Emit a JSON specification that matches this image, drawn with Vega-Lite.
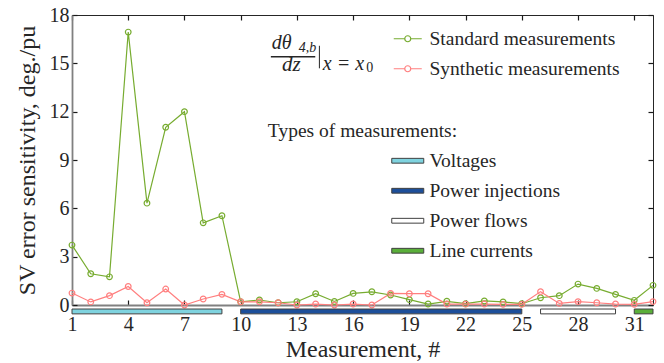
{
  "$schema": "https://vega.github.io/schema/vega-lite/v6.json",
  "width": 581,
  "height": 290,
  "autosize": {"type": "none"},
  "padding": {"left": 72, "top": 15, "right": 11, "bottom": 58},
  "background": "white",
  "config": {
    "view": {"stroke": "#262626", "strokeWidth": 1},
    "font": "Liberation Serif",
    "axis": {
      "labelFont": "Liberation Serif",
      "titleFont": "Liberation Serif",
      "labelColor": "#262626",
      "titleColor": "#262626",
      "titleFontWeight": "normal",
      "grid": false,
      "tickColor": "#1a1a1a",
      "tickWidth": 1.2,
      "domainColor": "#808080",
      "domainWidth": 1.8,
      "labelFlush": false
    },
    "legend": {
      "labelFont": "Liberation Serif",
      "labelFontSize": 19.5,
      "labelColor": "#262626",
      "labelLimit": 400,
      "padding": 0
    },
    "text": {"font": "Liberation Serif", "color": "#262626"}
  },
  "datasets": {
    "series": [
      {"m": 1, "series": "Standard measurements", "v": 3.72},
      {"m": 2, "series": "Standard measurements", "v": 1.94},
      {"m": 3, "series": "Standard measurements", "v": 1.75},
      {"m": 4, "series": "Standard measurements", "v": 16.94},
      {"m": 5, "series": "Standard measurements", "v": 6.32},
      {"m": 6, "series": "Standard measurements", "v": 11.03},
      {"m": 7, "series": "Standard measurements", "v": 12.0},
      {"m": 8, "series": "Standard measurements", "v": 5.1},
      {"m": 9, "series": "Standard measurements", "v": 5.54},
      {"m": 10, "series": "Standard measurements", "v": 0.2},
      {"m": 11, "series": "Standard measurements", "v": 0.31},
      {"m": 12, "series": "Standard measurements", "v": 0.14},
      {"m": 13, "series": "Standard measurements", "v": 0.2},
      {"m": 14, "series": "Standard measurements", "v": 0.7},
      {"m": 15, "series": "Standard measurements", "v": 0.22},
      {"m": 16, "series": "Standard measurements", "v": 0.72},
      {"m": 17, "series": "Standard measurements", "v": 0.82},
      {"m": 18, "series": "Standard measurements", "v": 0.62},
      {"m": 19, "series": "Standard measurements", "v": 0.33},
      {"m": 20, "series": "Standard measurements", "v": 0.06},
      {"m": 21, "series": "Standard measurements", "v": 0.23},
      {"m": 22, "series": "Standard measurements", "v": 0.08},
      {"m": 23, "series": "Standard measurements", "v": 0.25},
      {"m": 24, "series": "Standard measurements", "v": 0.19},
      {"m": 25, "series": "Standard measurements", "v": 0.08},
      {"m": 26, "series": "Standard measurements", "v": 0.45},
      {"m": 27, "series": "Standard measurements", "v": 0.58},
      {"m": 28, "series": "Standard measurements", "v": 1.3},
      {"m": 29, "series": "Standard measurements", "v": 1.03},
      {"m": 30, "series": "Standard measurements", "v": 0.66},
      {"m": 31, "series": "Standard measurements", "v": 0.29},
      {"m": 32, "series": "Standard measurements", "v": 1.22},
      {"m": 1, "series": "Synthetic measurements", "v": 0.74},
      {"m": 2, "series": "Synthetic measurements", "v": 0.19},
      {"m": 3, "series": "Synthetic measurements", "v": 0.58},
      {"m": 4, "series": "Synthetic measurements", "v": 1.15},
      {"m": 5, "series": "Synthetic measurements", "v": 0.14},
      {"m": 6, "series": "Synthetic measurements", "v": 0.99},
      {"m": 7, "series": "Synthetic measurements", "v": 0.0},
      {"m": 8, "series": "Synthetic measurements", "v": 0.37},
      {"m": 9, "series": "Synthetic measurements", "v": 0.66},
      {"m": 10, "series": "Synthetic measurements", "v": 0.2},
      {"m": 11, "series": "Synthetic measurements", "v": 0.2},
      {"m": 12, "series": "Synthetic measurements", "v": 0.14},
      {"m": 13, "series": "Synthetic measurements", "v": 0.0},
      {"m": 14, "series": "Synthetic measurements", "v": 0.06},
      {"m": 15, "series": "Synthetic measurements", "v": 0.0},
      {"m": 16, "series": "Synthetic measurements", "v": 0.06},
      {"m": 17, "series": "Synthetic measurements", "v": 0.0},
      {"m": 18, "series": "Synthetic measurements", "v": 0.72},
      {"m": 19, "series": "Synthetic measurements", "v": 0.7},
      {"m": 20, "series": "Synthetic measurements", "v": 0.7},
      {"m": 21, "series": "Synthetic measurements", "v": 0.06},
      {"m": 22, "series": "Synthetic measurements", "v": 0.05},
      {"m": 23, "series": "Synthetic measurements", "v": 0.06},
      {"m": 24, "series": "Synthetic measurements", "v": 0.04},
      {"m": 25, "series": "Synthetic measurements", "v": 0.04},
      {"m": 26, "series": "Synthetic measurements", "v": 0.83},
      {"m": 27, "series": "Synthetic measurements", "v": 0.1},
      {"m": 28, "series": "Synthetic measurements", "v": 0.21},
      {"m": 29, "series": "Synthetic measurements", "v": 0.14},
      {"m": 30, "series": "Synthetic measurements", "v": 0.06},
      {"m": 31, "series": "Synthetic measurements", "v": 0.04},
      {"m": 32, "series": "Synthetic measurements", "v": 0.21}
    ],
    "types": [
      {"type": "Voltages", "start": 1, "end": 9},
      {"type": "Power injections", "start": 10, "end": 25},
      {"type": "Power flows", "start": 26, "end": 30},
      {"type": "Line currents", "start": 31, "end": 32}
    ]
  },
  "layer": [
    {
      "data": {"name": "series"},
      "mark": {"type": "point", "opacity": 0},
      "encoding": {
        "x": {
          "field": "m", "type": "quantitative",
          "scale": {"domain": [1, 32], "nice": false, "zero": false},
          "axis": {"orient": "top", "labels": false, "domain": false, "title": null,
                   "values": [1, 4, 7, 10, 13, 16, 19, 22, 25, 28, 31], "tickSize": -5}
        },
        "y": {
          "field": "v", "type": "quantitative",
          "scale": {"domain": [0, 18], "nice": false, "zero": false},
          "axis": {"orient": "right", "labels": false, "domain": false, "title": null,
                   "values": [0, 3, 6, 9, 12, 15, 18], "tickSize": -5}
        }
      }
    },
    {
      "data": {"name": "series"},
      "mark": {"type": "line", "strokeWidth": 1.2,
               "point": {"filled": false, "size": 32, "strokeWidth": 1.2}},
      "encoding": {
        "x": {
          "field": "m", "type": "quantitative",
          "axis": {"orient": "bottom", "title": "Measurement, #", "titleFontSize": 24,
                   "titlePadding": 3, "labelFontSize": 20, "labelPadding": 14,
                   "values": [1, 4, 7, 10, 13, 16, 19, 22, 25, 28, 31], "tickSize": -5}
        },
        "y": {
          "field": "v", "type": "quantitative",
          "axis": {"orient": "left", "title": "SV error sensitivity, deg./pu", "titleFontSize": 24,
                   "titlePadding": 10, "labelFontSize": 20, "labelPadding": 8,
                   "values": [0, 3, 6, 9, 12, 15, 18], "tickSize": -5}
        },
        "color": {
          "field": "series", "type": "nominal",
          "scale": {"domain": ["Standard measurements", "Synthetic measurements"],
                    "range": ["#77ac30", "#ff7f7f"]},
          "legend": {
            "title": null, "orient": "none", "legendX": 326, "legendY": 14,
            "symbolType": "M-1.75,0H-0.375M0.375,0H1.75M0.375,0A0.375,0.375 0 1,1 -0.375,0A0.375,0.375 0 1,1 0.375,0",
            "symbolSize": 256, "symbolStrokeWidth": 1.2, "symbolFillColor": "transparent",
            "labelOffset": 12, "rowPadding": 9
          }
        }
      }
    },
    {
      "data": {"name": "types"},
      "mark": {"type": "rect", "stroke": "#404040", "strokeWidth": 1},
      "encoding": {
        "x": {"field": "start", "type": "quantitative", "axis": null},
        "x2": {"field": "end"},
        "y": {"datum": -0.25, "type": "quantitative", "axis": null},
        "y2": {"datum": -0.55},
        "fill": {
          "field": "type", "type": "nominal",
          "scale": {"domain": ["Voltages", "Power injections", "Power flows", "Line currents"],
                    "range": ["#7fd3df", "#1d4f9a", "#ffffff", "#5aaf3a"]},
          "legend": {
            "title": null, "orient": "none", "legendX": 326, "legendY": 136,
            "symbolType": "M-2,-0.3H2V0.3H-2Z", "symbolSize": 256,
            "symbolStrokeColor": "#404040", "symbolStrokeWidth": 1,
            "labelOffset": 12, "rowPadding": 9
          }
        }
      }
    },
    {
      "data": {"values": [{}]},
      "mark": {"type": "text", "text": "dθ", "fontSize": 20, "fontStyle": "italic", "align": "left", "baseline": "alphabetic"},
      "encoding": {"x": {"datum": 11.66, "type": "quantitative", "axis": null}, "y": {"datum": 15.89, "type": "quantitative", "axis": null}}
    },
    {
      "data": {"values": [{}]},
      "mark": {"type": "text", "text": "4,b", "fontSize": 14, "fontStyle": "italic", "align": "left", "baseline": "alphabetic"},
      "encoding": {"x": {"datum": 13.1, "type": "quantitative", "axis": null}, "y": {"datum": 15.72, "type": "quantitative", "axis": null}}
    },
    {
      "data": {"values": [{}]},
      "mark": {"type": "rule", "strokeWidth": 1.5, "color": "#262626"},
      "encoding": {"x": {"datum": 11.61, "type": "quantitative", "axis": null}, "x2": {"datum": 13.98}, "y": {"datum": 15.41, "type": "quantitative", "axis": null}}
    },
    {
      "data": {"values": [{}]},
      "mark": {"type": "text", "text": "dz", "fontSize": 21, "fontStyle": "italic", "align": "left", "baseline": "alphabetic"},
      "encoding": {"x": {"datum": 12.2, "type": "quantitative", "axis": null}, "y": {"datum": 14.5, "type": "quantitative", "axis": null}}
    },
    {
      "data": {"values": [{}]},
      "mark": {"type": "rule", "strokeWidth": 1, "color": "#262626"},
      "encoding": {"x": {"datum": 14.2, "type": "quantitative", "axis": null}, "y": {"datum": 14.69, "type": "quantitative", "axis": null}, "y2": {"datum": 16.09}}
    },
    {
      "data": {"values": [{}]},
      "mark": {"type": "text", "text": "x = x", "fontSize": 20, "fontStyle": "italic", "align": "left", "baseline": "alphabetic"},
      "encoding": {"x": {"datum": 14.38, "type": "quantitative", "axis": null}, "y": {"datum": 14.59, "type": "quantitative", "axis": null}}
    },
    {
      "data": {"values": [{}]},
      "mark": {"type": "text", "text": "0", "fontSize": 14, "align": "left", "baseline": "alphabetic"},
      "encoding": {"x": {"datum": 16.7, "type": "quantitative", "axis": null}, "y": {"datum": 14.46, "type": "quantitative", "axis": null}}
    },
    {
      "data": {"values": [{}]},
      "mark": {"type": "text", "text": "Types of measurements:", "fontSize": 19.5, "align": "left", "baseline": "middle"},
      "encoding": {"x": {"datum": 11.45, "type": "quantitative", "axis": null}, "y": {"datum": 10.81, "type": "quantitative", "axis": null}}
    }
  ],
  "resolve": {"axis": {"x": "independent", "y": "independent"}}
}
